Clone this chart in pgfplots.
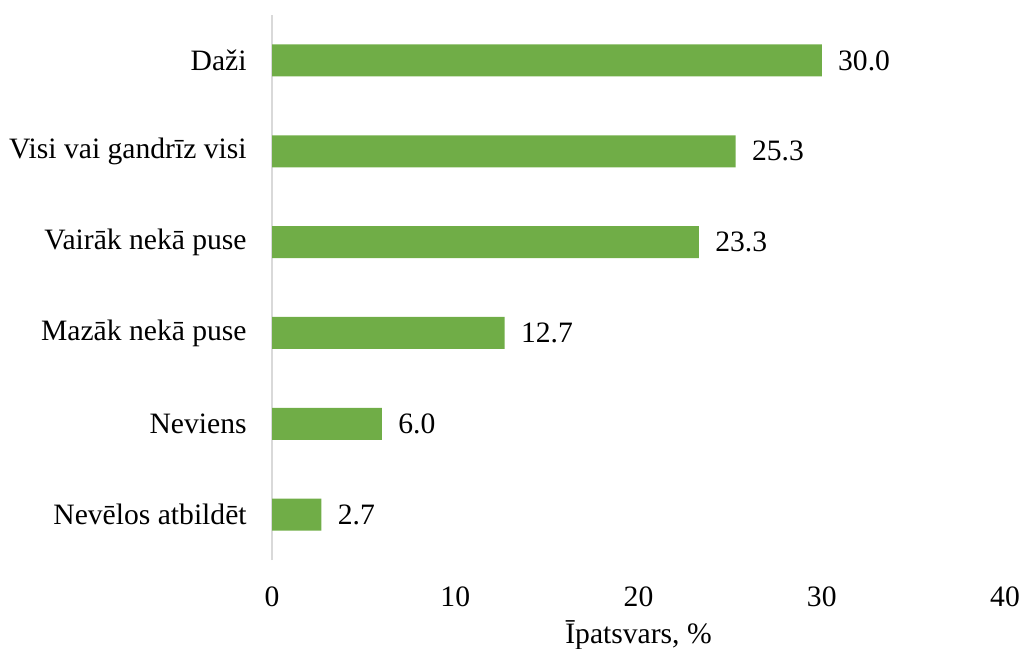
\documentclass[border=0pt]{standalone}
\usepackage{fontspec}
\setmainfont{Liberation Serif}
\usepackage{pgfplots}
\pgfplotsset{compat=1.18}
\definecolor{barg}{HTML}{70AD47}
\definecolor{axg}{HTML}{D9D9D9}
\newcommand{\fs}{\fontsize{14.8}{17.8}\selectfont}
\begin{document}
\fs
\begin{tikzpicture}
\begin{axis}[
  name=ax,
  at={(0,0)}, anchor=south west,
  width=366.5pt, height=272.5pt, scale only axis,
  xbar, bar width=16pt,
  xmin=0, xmax=40, ymin=-0.5, ymax=5.5,
  xtick={0,10,20,30,40},
  ytick={0,1,2,3,4,5},
  yticklabels={Nevēlos atbildēt, Neviens, Mazāk nekā puse, Vairāk nekā puse, Visi vai gandrīz visi, Daži},
  axis lines*=left,
  x axis line style={draw=none},
  y axis line style={draw=axg, line width=1pt, -},
  major tick length=0pt,
  /pgf/number format/assume math mode=true,
  ticklabel style={font=\fs},
  yticklabel style={inner sep=0pt, anchor=east, xshift=-12.5pt},
  xticklabel style={inner sep=0pt, anchor=north, yshift=-13pt},
  xlabel={Īpatsvars, \%},
  xlabel style={at={(axis description cs:0.5,0)}, anchor=center, yshift=-37.5pt, font=\fs},
  nodes near coords,
  nodes near coords style={font=\fs, anchor=west, inner sep=0pt, xshift=8pt,
    /pgf/number format/.cd, fixed, fixed zerofill, precision=1, assume math mode=true},
]
\addplot[fill=barg, draw=none] coordinates {
  (2.7,0) (6.0,1) (12.7,2) (23.3,3) (25.3,4) (30.0,5)
};
\end{axis}
\pgfresetboundingbox
\path (ax.south west) ++(-136pt,-44pt) coordinate (bl);
\path (ax.north east) ++(9.5pt,7.5pt) coordinate (tr);
\path (bl) rectangle (tr);
\end{tikzpicture}
\end{document}
